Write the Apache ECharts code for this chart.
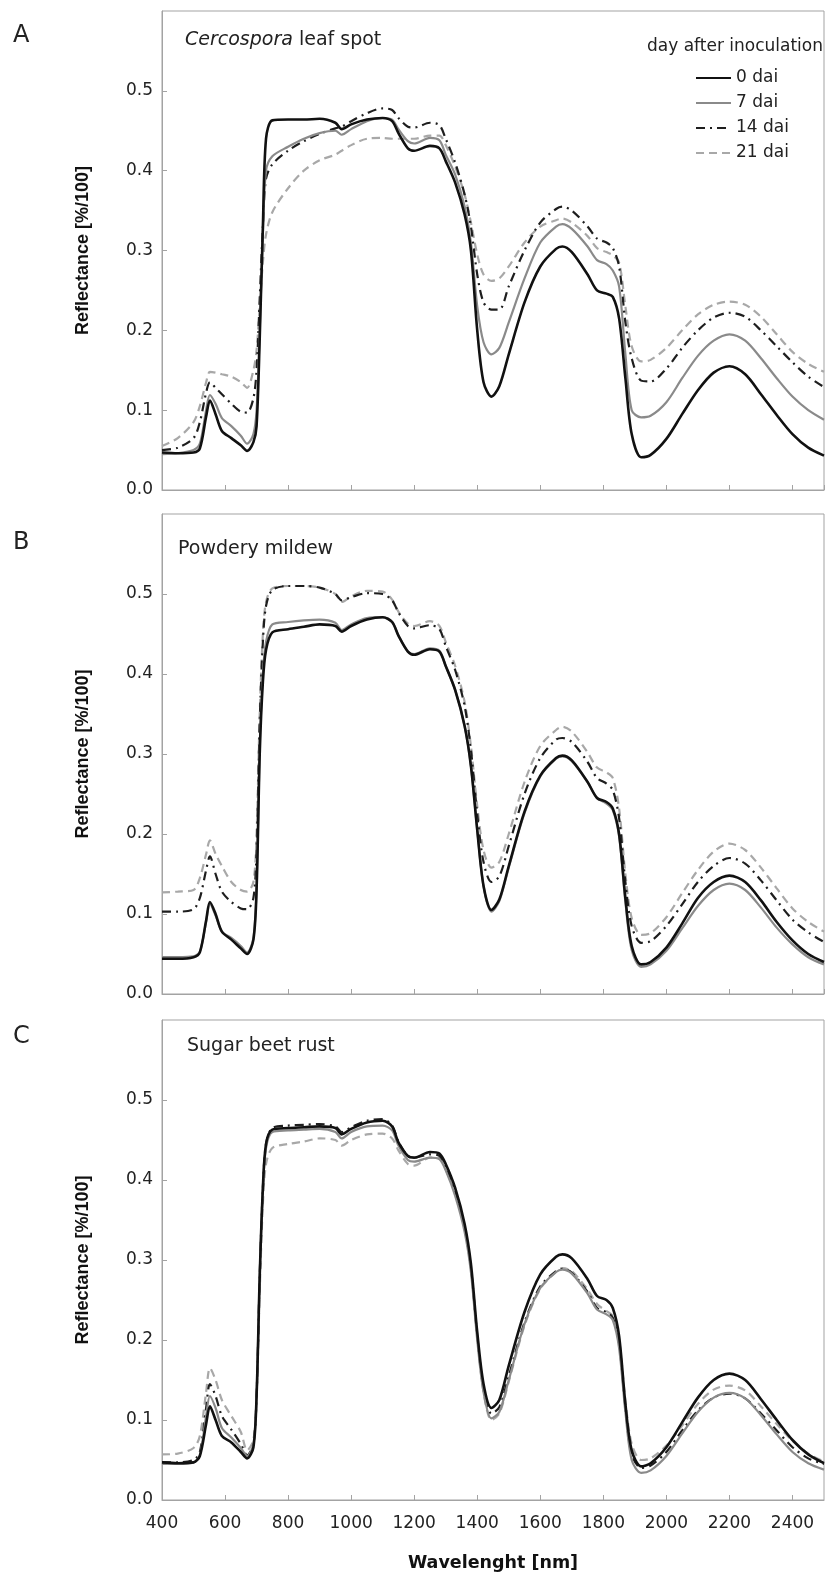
<!DOCTYPE html>
<html>
<head>
<meta charset="utf-8">
<script src="https://cdn.jsdelivr.net/npm/echarts@6/dist/echarts.min.js"></script>
<style>
  html, body { margin: 0; padding: 0; background: #fff; }
  #chart { width: 826px; height: 1575px; }
</style>
</head>
<body>
<div id="chart"></div>
<script>
// Sampled wavelengths (nm) shared by every spectrum
const wavelength = [
  400, 450, 500, 520, 540,
  552, 570, 590, 620, 650,
  670, 690, 700, 710, 720,
  730, 750, 800, 850, 900,
  950, 970, 1000, 1050, 1100,
  1130, 1150, 1180, 1200, 1250,
  1280, 1300, 1330, 1360, 1380,
  1400, 1420, 1445, 1470, 1500,
  1550, 1600, 1650, 1670, 1700,
  1750, 1780, 1810, 1830, 1850,
  1870, 1890, 1920, 1950, 2000,
  2050, 2100, 2150, 2200, 2250,
  2300, 2350, 2400, 2450, 2500
];

const dayLabels = ['0 dai', '7 dai', '14 dai', '21 dai'];
const xTicks = { min: 400, max: 2500, step: 200 };
const yTicks = { min: 0, max: 0.6, step: 0.1 };

// A: Cercospora leaf spot
const cercospora0 = [
  .047, .046, .047, .052, .092,  .112, .095, .074, .065, .056,
  .049, .060, .080, .190, .330,  .440, .463, .464, .464, .465,
  .460, .452, .458, .464, .466,  .462, .447, .428, .425, .431,
  .428, .412, .385, .345, .300,  .200, .135, .117, .130, .170,
  .235, .280, .302, .305, .298,  .270, .250, .246, .242, .215,
  .140, .070, .041, .044, .064,  .095, .125, .147, .155, .145,
  .120, .094, .070, .053, .043
];
const cercospora7 = [
  .045, .046, .050, .058, .100,  .119, .108, .090, .080, .068,
  .058, .070, .100, .200, .320,  .400, .418, .430, .440, .447,
  .450, .445, .452, .462, .466,  .464, .452, .437, .434, .441,
  .438, .420, .395, .355, .310,  .230, .185, .170, .178, .210,
  .265, .310, .330, .333, .327,  .305, .288, .283, .275, .255,
  .170, .100, .091, .093, .110,  .140, .168, .187, .195, .187,
  .165, .140, .117, .100, .088
];
const cercospora14 = [
  .050, .053, .065, .085, .122,  .135, .128, .120, .108, .098,
  .097, .115, .150, .240, .330,  .390, .408, .425, .437, .446,
  .453, .455, .462, .472, .478,  .476, .466, .455, .454, .460,
  .457, .440, .410, .370, .330,  .270, .235, .226, .226, .255,
  .300, .335, .352, .355, .350,  .330, .315, .310, .303, .280,
  .210, .165, .137, .136, .152,  .178, .200, .216, .222, .217,
  .200, .180, .160, .142, .129
];
const cercospora21 = [
  .055, .065, .085, .105, .135,  .148, .147, .145, .142, .135,
  .128, .150, .175, .230, .285,  .320, .348, .378, .400, .413,
  .420, .425, .432, .440, .441,  .440, .440, .440, .440, .444,
  .444, .432, .405, .370, .335,  .295, .270, .262, .265, .280,
  .310, .330, .338, .340, .335,  .318, .303, .298, .294, .285,
  .230, .180, .161, .163, .178,  .200, .220, .232, .236, .232,
  .217, .195, .173, .158, .148
];

// B: Powdery mildew
const mildew0 = [
  .044, .044, .046, .052, .092,  .115, .100, .078, .068, .057,
  .050, .068, .130, .300, .390,  .430, .452, .456, .459, .462,
  .460, .453, .460, .468, .471,  .465, .448, .428, .424, .431,
  .428, .410, .380, .335, .285,  .205, .135, .105, .118, .160,
  .228, .273, .295, .298, .292,  .265, .245, .240, .232, .200,
  .120, .060, .037, .040, .058,  .088, .120, .140, .148, .140,
  .117, .090, .067, .050, .040
];
const mildew7 = [
  .046, .046, .047, .053, .090,  .113, .098, .078, .070, .060,
  .052, .070, .135, .310, .400,  .440, .462, .465, .467, .468,
  .464, .455, .462, .470, .471,  .465, .448, .428, .425, .432,
  .429, .410, .380, .335, .285,  .205, .135, .103, .116, .158,
  .226, .272, .294, .297, .291,  .265, .245, .238, .230, .197,
  .115, .055, .034, .037, .054,  .082, .110, .130, .138, .130,
  .108, .083, .062, .046, .037
];
const mildew14 = [
  .103, .103, .106, .120, .155,  .172, .150, .128, .115, .107,
  .106, .120, .180, .340, .440,  .485, .505, .510, .510, .508,
  .500, .492, .496, .501, .500,  .492, .477, .460, .457, .461,
  .456, .435, .405, .360, .305,  .225, .165, .140, .147, .185,
  .250, .295, .318, .320, .315,  .290, .270, .263, .255, .220,
  .140, .085, .064, .066, .085,  .112, .140, .160, .170, .163,
  .142, .117, .093, .077, .065
];
const mildew21 = [
  .127, .128, .130, .145, .175,  .192, .175, .160, .140, .130,
  .128, .140, .200, .350, .450,  .490, .507, .510, .510, .508,
  .500, .490, .497, .504, .503,  .493, .478, .463, .460, .466,
  .460, .440, .410, .365, .310,  .235, .180, .158, .165, .200,
  .265, .310, .330, .334, .328,  .302, .283, .277, .270, .232,
  .150, .095, .074, .076, .096,  .126, .155, .178, .188, .180,
  .158, .132, .107, .090, .078
];

// C: Sugar beet rust
const rust0 = [
  .047, .046, .047, .055, .095,  .117, .100, .080, .072, .060,
  .052, .066, .130, .280, .390,  .445, .463, .465, .466, .467,
  .465, .457, .464, .472, .474,  .467, .447, .430, .428, .435,
  .433, .420, .390, .345, .295,  .210, .145, .115, .125, .168,
  .235, .282, .304, .307, .302,  .276, .255, .250, .240, .205,
  .120, .062, .042, .046, .066,  .097, .128, .150, .158, .150,
  .126, .100, .075, .057, .046
];
const rust7 = [
  .045, .045, .047, .056, .105,  .130, .115, .090, .078, .065,
  .055, .070, .130, .280, .390,  .440, .460, .462, .463, .464,
  .460, .452, .460, .467, .468,  .462, .443, .425, .423, .428,
  .426, .412, .380, .335, .285,  .200, .135, .102, .110, .150,
  .220, .265, .285, .288, .283,  .258, .238, .232, .225, .190,
  .110, .050, .034, .037, .055,  .083, .110, .128, .134, .127,
  .106, .082, .060, .046, .038
];
const rust14 = [
  .047, .047, .050, .060, .115,  .145, .130, .105, .088, .070,
  .056, .070, .130, .280, .390,  .445, .465, .468, .469, .470,
  .467, .460, .466, .474, .476,  .468, .448, .430, .428, .432,
  .430, .415, .385, .340, .290,  .205, .140, .108, .116, .155,
  .222, .267, .286, .289, .284,  .260, .240, .235, .228, .195,
  .115, .057, .040, .043, .060,  .087, .112, .128, .133, .127,
  .108, .087, .066, .052, .045
];
const rust21 = [
  .057, .058, .065, .080, .135,  .165, .150, .125, .105, .085,
  .062, .075, .130, .260, .370,  .420, .440, .445, .448, .452,
  .450, .443, .450, .457, .458,  .452, .437, .420, .418, .428,
  .427, .413, .385, .340, .290,  .205, .135, .100, .108, .148,
  .218, .264, .285, .290, .286,  .263, .245, .236, .230, .200,
  .125, .070, .050, .052, .068,  .093, .120, .138, .143, .137,
  .117, .095, .074, .058, .048
];

const panels = [
  { letter: 'A', title: '{i|Cercospora} leaf spot', days: [cercospora0, cercospora7, cercospora14, cercospora21] },
  { letter: 'B', title: 'Powdery mildew', days: [mildew0, mildew7, mildew14, mildew21] },
  { letter: 'C', title: 'Sugar beet rust', days: [rust0, rust7, rust14, rust21] }
];

// Layout and appearance
const SANS = 'DejaVu Sans';
const AXIS_GRAY = '#a3a3a3';
const gridBoxes = [
  { top: 11, height: 479 },
  { top: 514, height: 480 },
  { top: 1020, height: 480 }
];
const letterTops = [24, 531, 1025];
const titleTops = [31, 540, 1037];
const titleLefts = [185, 178, 187];

const lineStyles = [
  { color: '#111111', width: 2.6, type: 'solid' },
  { color: '#8a8a8a', width: 2.2, type: 'solid' },
  { color: '#1e1e1e', width: 2.2, type: [9, 5, 2, 5] },
  { color: '#a8a8a8', width: 2.2, type: [8, 5] }
];

const grid = gridBoxes.map(b => ({
  left: 162, width: 662, top: b.top, height: b.height,
  show: true, borderColor: AXIS_GRAY, borderWidth: 1
}));

const tickLabelStyle = { fontFamily: SANS, fontSize: 17, color: '#222' };

const xAxis = gridBoxes.map((b, i) => ({
  type: 'value', gridIndex: i,
  min: xTicks.min, max: xTicks.max, interval: xTicks.step,
  axisLine: { show: true, lineStyle: { color: AXIS_GRAY } },
  axisTick: { show: true, inside: true, length: 5, lineStyle: { color: AXIS_GRAY } },
  splitLine: { show: false },
  axisLabel: Object.assign({
    show: i === 2, margin: 15, showMaxLabel: false,
    formatter: v => String(v)
  }, tickLabelStyle),
  name: i === 2 ? 'Wavelenght [nm]' : '',
  nameLocation: 'middle', nameGap: 54,
  nameTextStyle: { fontFamily: SANS, fontWeight: 'bold', fontSize: 17.5, color: '#111' }
}));

const yAxis = gridBoxes.map((b, i) => ({
  type: 'value', gridIndex: i,
  min: yTicks.min, max: yTicks.max, interval: yTicks.step,
  axisLine: { show: true, lineStyle: { color: AXIS_GRAY } },
  axisTick: { show: true, inside: true, length: 5, lineStyle: { color: AXIS_GRAY } },
  splitLine: { show: false },
  axisLabel: Object.assign({
    margin: 9, showMaxLabel: false,
    formatter: v => v.toFixed(1)
  }, tickLabelStyle),
  name: 'Reflectance [%/100]',
  nameLocation: 'middle', nameGap: 70,
  nameTextStyle: { fontFamily: 'Liberation Sans', fontWeight: 'bold', fontSize: 18, color: '#111' }
}));

// Draw the oldest infection stage first so the 0 dai curve ends up on top
const series = [];
panels.forEach((p, pi) => {
  [3, 2, 1, 0].forEach(d => {
    series.push({
      type: 'line',
      name: dayLabels[d],
      xAxisIndex: pi, yAxisIndex: pi,
      data: wavelength.map((w, k) => [w, p.days[d][k]]),
      showSymbol: false, symbol: 'none',
      smooth: 0.3,
      lineStyle: lineStyles[d],
      itemStyle: { color: lineStyles[d].color },
      silent: true,
      z: 2 + (3 - d)
    });
  });
});

const title = [];
panels.forEach((p, pi) => {
  title.push({
    text: p.letter, left: 13, top: letterTops[pi], padding: 0,
    textStyle: { fontFamily: SANS, fontSize: 24, fontWeight: 'normal', color: '#222' }
  });
  title.push({
    text: p.title, left: titleLefts[pi], top: titleTops[pi], padding: 0,
    textStyle: {
      fontFamily: SANS, fontSize: 19, fontWeight: 'normal', color: '#222',
      rich: { i: { fontFamily: SANS, fontSize: 19, fontStyle: 'italic', color: '#222' } }
    }
  });
});
title.push({
  text: 'day after inoculation', left: 647, top: 38, padding: 0,
  textStyle: { fontFamily: SANS, fontSize: 17, fontWeight: 'normal', color: '#222' }
});

const chart = echarts.init(document.getElementById('chart'), null, { renderer: 'canvas' });
chart.setOption({
  animation: false,
  backgroundColor: '#ffffff',
  title,
  legend: {
    data: dayLabels,
    orient: 'vertical', left: 695, top: 68, padding: 0,
    itemWidth: 35, itemHeight: 14, itemGap: 5,
    selectedMode: false,
    // legend keys are plain line samples, no marker in the middle
    itemStyle: { color: 'rgba(0,0,0,0)', borderColor: 'rgba(0,0,0,0)', borderWidth: 0 },
    textStyle: { fontFamily: SANS, fontSize: 17, color: '#222', lineHeight: 20 }
  },
  grid, xAxis, yAxis, series
});
</script>
</body>
</html>
